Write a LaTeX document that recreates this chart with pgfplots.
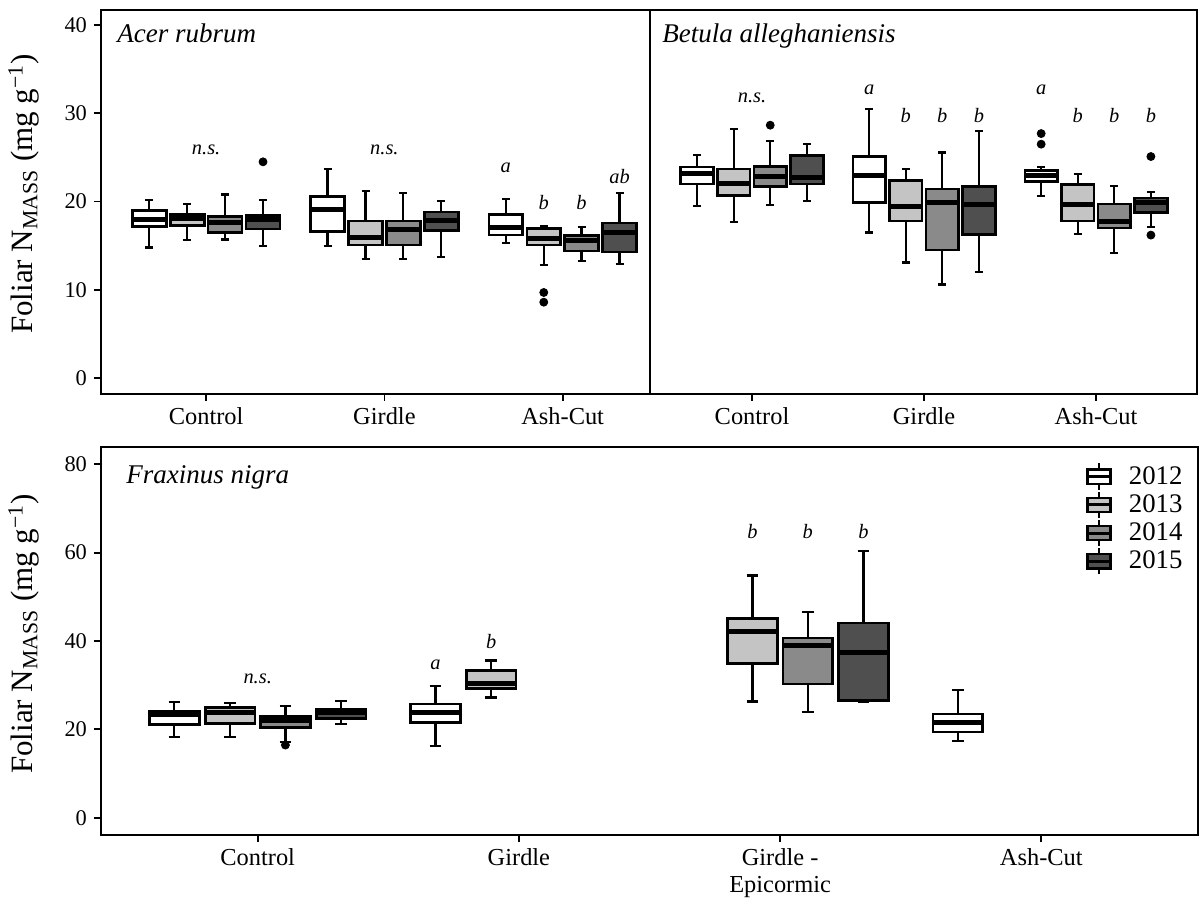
\documentclass[border=0pt]{standalone}
\usepackage{fontspec}
\setmainfont{Liberation Serif}
\usepackage{pgfplots}
\pgfplotsset{compat=1.18}

\definecolor{c12}{gray}{1}
\definecolor{c13}{gray}{0.77}
\definecolor{c14}{gray}{0.54}
\definecolor{c15}{gray}{0.31}

\pgfplotsset{
  panel/.style={
    scale only axis,
    axis line style={line width=1pt},
    tick style={black, line width=0.9pt},
    tick align=outside,
    major tick length=3.5pt,
    xtick pos=left, ytick pos=left,
    xtick={1,2,3},
    /pgf/number format/assume math mode=true,
    xticklabel style={font=\fontsize{12.2}{13.5}\selectfont, align=center},
    yticklabel style={font=\fontsize{11.2}{12}\selectfont},
  },
}
\tikzset{
  lab/.style={font=\fontsize{10.2}{12}\selectfont\itshape, inner sep=0pt},
  ttl/.style={font=\fontsize{13.5}{16}\selectfont\itshape, anchor=base west, inner sep=0pt},
}

% box: position, colour, lower whisker, Q1, median, Q3, upper whisker, outliers
\newcommand{\bx}[8]{%
  \pgfmathsetmacro\bxL{#1-0.095}\pgfmathsetmacro\bxR{#1+0.095}%
  \pgfmathsetmacro\bcL{#1-0.0225}\pgfmathsetmacro\bcR{#1+0.0225}%
  \addplot[black, line width=1.1pt] coordinates {(#1,#3) (#1,#4)};
  \addplot[black, line width=1.1pt] coordinates {(#1,#6) (#1,#7)};
  \addplot[black, line width=1.1pt] coordinates {(\bcL,#3) (\bcR,#3)};
  \addplot[black, line width=1.1pt] coordinates {(\bcL,#7) (\bcR,#7)};
  \addplot[draw=black, fill=#2, line width=1.3pt] coordinates {(\bxL,#4) (\bxR,#4) (\bxR,#6) (\bxL,#6)} -- cycle;
  \addplot[black, line width=2.5pt] coordinates {(\bxL,#5) (\bxR,#5)};
  \if\relax\detokenize{#8}\relax\else
    \addplot[only marks, mark=*, mark size=2pt, black] coordinates {#8};
  \fi}

\newcommand{\legkey}[1]{%
  \draw[black,line width=0.9pt] (5.75pt,-6.6pt) -- (5.75pt,6.6pt);
  \draw[black,line width=1.1pt,fill=#1] (0pt,-3.6pt) rectangle (11.5pt,3.6pt);
  \draw[black,line width=1.5pt] (0pt,0pt) -- (11.5pt,0pt);}

\begin{document}
\begin{tikzpicture}
\useasboundingbox (0pt,0pt) rectangle (599.5pt,452pt);

% ---------------- Acer rubrum ----------------
\begin{axis}[panel, at={(50.5pt,255pt)}, anchor=south west,
  width=274.5pt, height=192pt,
  xmin=0.41, xmax=3.49, ymin=-1.8, ymax=41.7,
  ytick={0,10,20,30,40},
  xticklabels={Control,Girdle,Ash-Cut}]
\bx{0.681}{c12}{14.8}{17.2}{18.0}{19.0}{20.2}{}
\bx{0.894}{c13}{15.6}{17.3}{18.1}{18.5}{19.7}{}
\bx{1.106}{c14}{15.7}{16.5}{17.6}{18.3}{20.8}{}
\bx{1.319}{c15}{15.0}{16.9}{18.0}{18.4}{20.2}{(1.319,24.5)}
\bx{1.681}{c12}{15.0}{16.6}{19.1}{20.6}{23.7}{}
\bx{1.894}{c13}{13.5}{15.1}{15.9}{17.8}{21.2}{}
\bx{2.106}{c14}{13.5}{15.1}{16.8}{17.8}{21.0}{}
\bx{2.319}{c15}{13.7}{16.7}{17.85}{18.8}{20.1}{}
\bx{2.681}{c12}{15.3}{16.2}{17.1}{18.5}{20.3}{}
\bx{2.894}{c13}{12.8}{15.1}{15.8}{16.95}{17.2}{(2.894,9.7) (2.894,8.6)}
\bx{3.106}{c14}{13.3}{14.4}{15.6}{16.15}{17.1}{}
\bx{3.319}{c15}{12.9}{14.3}{16.5}{17.55}{21.0}{}
\node[lab] at (axis cs:1,25.9) {n.s.};
\node[lab] at (axis cs:2,25.9) {n.s.};
\node[lab] at (axis cs:2.681,23.8) {a};
\node[lab] at (axis cs:2.894,19.9) {b};
\node[lab] at (axis cs:3.106,19.9) {b};
\node[lab] at (axis cs:3.319,22.8) {ab};
\node[ttl] at (rel axis cs:0.029,0.915) {Acer rubrum};
\end{axis}

% ---------------- Betula alleghaniensis ----------------
\begin{axis}[panel, at={(325pt,255pt)}, anchor=south west,
  width=273.5pt, height=192pt,
  xmin=0.407, xmax=3.587, ymin=-1.8, ymax=41.7,
  ytick=\empty,
  xticklabels={Control,Girdle,Ash-Cut}]
\bx{0.681}{c12}{19.5}{22.0}{23.2}{23.9}{25.3}{}
\bx{0.894}{c13}{17.7}{20.7}{22.1}{23.7}{28.2}{}
\bx{1.106}{c14}{19.6}{21.7}{22.8}{24.0}{26.9}{(1.106,28.65)}
\bx{1.319}{c15}{20.1}{22.0}{22.7}{25.25}{26.5}{}
\bx{1.681}{c12}{16.5}{19.9}{23.0}{25.1}{30.5}{}
\bx{1.894}{c13}{13.1}{17.8}{19.4}{22.4}{23.7}{}
\bx{2.106}{c14}{10.6}{14.5}{19.9}{21.4}{25.55}{}
\bx{2.319}{c15}{12.0}{16.3}{19.7}{21.7}{28.0}{}
\bx{2.681}{c12}{20.6}{22.3}{23.0}{23.55}{23.9}{(2.681,27.7) (2.681,26.5)}
\bx{2.894}{c13}{16.3}{17.8}{19.7}{21.9}{23.1}{}
\bx{3.106}{c14}{14.2}{17.0}{17.7}{19.7}{21.8}{}
\bx{3.319}{c15}{17.1}{18.75}{19.9}{20.4}{21.1}{(3.319,25.1) (3.319,16.2)}
\node[lab] at (axis cs:1,31.7) {n.s.};
\node[lab] at (axis cs:1.681,32.7) {a};
\node[lab] at (axis cs:1.894,29.8) {b};
\node[lab] at (axis cs:2.106,29.8) {b};
\node[lab] at (axis cs:2.319,29.8) {b};
\node[lab] at (axis cs:2.681,32.7) {a};
\node[lab] at (axis cs:2.894,29.8) {b};
\node[lab] at (axis cs:3.106,29.8) {b};
\node[lab] at (axis cs:3.319,29.8) {b};
\node[ttl] at (rel axis cs:0.022,0.915) {Betula alleghaniensis};
\end{axis}

% ---------------- Fraxinus nigra ----------------
\begin{axis}[panel, at={(50.5pt,34.5pt)}, anchor=south west,
  width=548.5pt, height=194pt,
  xmin=0.4, xmax=4.6, ymin=-3.9, ymax=83.9,
  xtick={1,2,3,4}, ytick={0,20,40,60,80},
  xticklabels={Control,Girdle,{Girdle -\\Epicormic},Ash-Cut},
  legend style={draw=none, fill=none, at={(0.989,0.961)}, anchor=north east,
    font=\fontsize{13.4}{15}\selectfont, row sep=0pt, inner sep=0pt,
    nodes={inner sep=1.5pt},
    /tikz/every odd column/.append style={column sep=7pt}},
  legend cell align=left]
\addlegendimage{legend image code/.code={\legkey{c12}}}
\addlegendentry{2012}
\addlegendimage{legend image code/.code={\legkey{c13}}}
\addlegendentry{2013}
\addlegendimage{legend image code/.code={\legkey{c14}}}
\addlegendentry{2014}
\addlegendimage{legend image code/.code={\legkey{c15}}}
\addlegendentry{2015}
\bx{0.681}{c12}{18.3}{21.1}{23.3}{24.0}{26.2}{}
\bx{0.894}{c13}{18.2}{21.35}{23.8}{25.0}{26.0}{}
\bx{1.106}{c14}{17.2}{20.45}{22.1}{22.85}{25.2}{(1.106,16.45)}
\bx{1.319}{c15}{21.2}{22.4}{23.75}{24.5}{26.5}{}
\bx{1.681}{c12}{16.2}{21.5}{23.75}{25.7}{29.9}{}
\bx{1.894}{c13}{27.2}{29.2}{30.4}{33.35}{35.6}{}
\bx{2.894}{c13}{26.3}{34.9}{42.2}{45.1}{54.8}{}
\bx{3.106}{c14}{24.0}{30.25}{38.9}{40.7}{46.5}{}
\bx{3.319}{c15}{26.2}{26.6}{37.5}{44.1}{60.3}{}
\bx{3.681}{c12}{17.3}{19.4}{21.5}{23.5}{28.9}{}
\node[lab] at (axis cs:1,31.5) {n.s.};
\node[lab] at (axis cs:1.681,34.5) {a};
\node[lab] at (axis cs:1.894,39.8) {b};
\node[lab] at (axis cs:2.894,64.7) {b};
\node[lab] at (axis cs:3.106,64.7) {b};
\node[lab] at (axis cs:3.319,64.7) {b};
\node[ttl] at (rel axis cs:0.0228,0.907) {Fraxinus nigra};
\end{axis}

% y-axis titles
\node[rotate=90, anchor=base, font=\fontsize{15.5}{18}\selectfont]
  at (16.5pt,355pt) {Foliar N\textsubscript{MASS} (mg g\textsuperscript{−1})};
\node[rotate=90, anchor=base, font=\fontsize{15.5}{18}\selectfont]
  at (16.5pt,135pt) {Foliar N\textsubscript{MASS} (mg g\textsuperscript{−1})};
\end{tikzpicture}
\end{document}
